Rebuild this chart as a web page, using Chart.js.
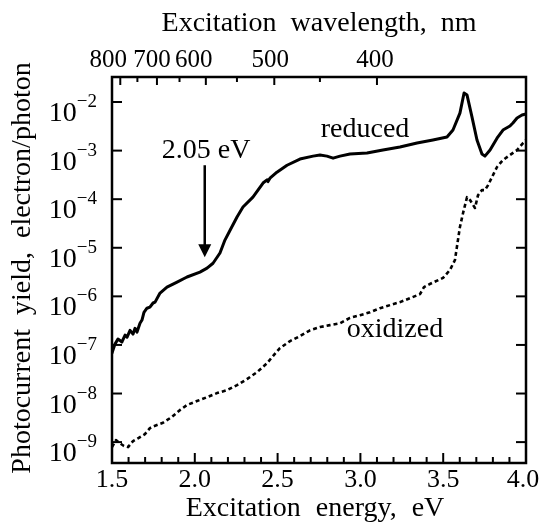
<!DOCTYPE html>
<html><head><meta charset="utf-8">
<script src="https://cdn.jsdelivr.net/npm/chart.js@4.4.1/dist/chart.umd.min.js"></script>
<style>html,body{margin:0;padding:0;background:#fff;}canvas{display:block;}</style>
</head><body>
<canvas id="c" width="546" height="529"></canvas>
<script>
// ---- data ----
const reducedEnergy = [1.50,1.518,1.536,1.56,1.579,1.591,1.609,1.627,1.639,1.651,1.669,1.681,1.693,1.711,1.729,1.748,1.76,1.79,1.832,1.893,1.953,2.031,2.074,2.11,2.152,2.182,2.213,2.255,2.291,2.351,2.412,2.436,2.442,2.454,2.496,2.557,2.635,2.714,2.756,2.798,2.835,2.877,2.937,3.04,3.136,3.239,3.342,3.438,3.523,3.559,3.601,3.626,3.644,3.674,3.704,3.734,3.752,3.783,3.825,3.861,3.903,3.921,3.946,3.976,4.0];
const reducedYield = [6.8e-8,1.04e-7,1.32e-7,1.15e-7,1.6e-7,1.45e-7,2.0e-7,1.67e-7,2.2e-7,1.84e-7,2.8e-7,3.25e-7,4.7e-7,5.7e-7,6.0e-7,7.3e-7,7.6e-7,1.17e-6,1.55e-6,1.97e-6,2.5e-6,3.16e-6,3.8e-6,4.8e-6,7.8e-6,1.44e-5,2.3e-5,4.3e-5,6.9e-5,1.1e-4,2.15e-4,2.5e-4,2.3e-4,2.7e-4,3.6e-4,5.0e-4,6.7e-4,7.7e-4,8.1e-4,7.7e-4,7.0e-4,7.7e-4,8.5e-4,8.9e-4,1.03e-3,1.19e-3,1.43e-3,1.65e-3,1.9e-3,2.65e-3,5.9e-3,1.53e-2,1.39e-2,4.9e-3,1.65e-3,8.5e-4,7.7e-4,1.03e-3,1.8e-3,2.65e-3,3.2e-3,3.7e-3,4.7e-3,5.4e-3,5.7e-3];
const oxidizedEnergy = [1.50,1.524,1.548,1.572,1.597,1.627,1.657,1.699,1.729,1.748,1.808,1.862,1.911,1.953,2.013,2.074,2.134,2.194,2.255,2.315,2.376,2.436,2.472,2.514,2.575,2.635,2.696,2.756,2.816,2.877,2.937,2.998,3.058,3.118,3.179,3.239,3.30,3.36,3.384,3.42,3.499,3.541,3.571,3.589,3.601,3.62,3.644,3.662,3.692,3.71,3.734,3.752,3.771,3.795,3.825,3.861,3.903,3.946,3.982,4.0];
const oxidizedYield = [7.9e-10,1.1e-9,9.5e-10,8.3e-10,7.9e-10,1.05e-9,1.2e-9,1.46e-9,1.94e-9,2.1e-9,2.5e-9,3.3e-9,4.6e-9,5.8e-9,7.0e-9,8.4e-9,1.02e-8,1.17e-8,1.49e-8,1.98e-8,2.76e-8,4.2e-8,5.9e-8,8.6e-8,1.2e-7,1.52e-7,2.0e-7,2.33e-7,2.56e-7,2.8e-7,3.6e-7,4.1e-7,4.7e-7,5.7e-7,6.6e-7,7.6e-7,9.2e-7,1.11e-6,1.55e-6,1.8e-6,2.4e-6,3.5e-6,5.6e-6,1.44e-5,2.67e-5,5.2e-5,1.1e-4,9.6e-5,6.6e-5,1.2e-4,1.54e-4,1.54e-4,1.95e-4,2.86e-4,4.6e-4,6.4e-4,8.1e-4,1.03e-3,1.43e-3,1.65e-3];

// ---- axes ----
const energyTicks = [1.5,2.0,2.5,3.0,3.5,4.0];
const energyTickLabels = ['1.5','2.0','2.5','3.0','3.5','4.0'];
const yieldExponents = [-2,-3,-4,-5,-6,-7,-8,-9];
const wavelengthTicks = [800,750,700,650,600,550,500,450,400];
const wavelengthLabels = ['800','700','600','500','400'];
const xTitle = 'Excitation energy, eV';
const topTitle = 'Excitation wavelength, nm';
const yTitle = 'Photocurrent yield, electron/photon';

// ---- annotations (data coordinates) ----
const labelReduced = {text:'reduced', e:3.028, v:1.9e-3};
const labelOxidized = {text:'oxidized', e:3.209, v:1.45e-7};
const labelEdge = {text:'2.05 eV', e:2.068, v:7.0e-4};
const arrowEnergy = 2.06, arrowFrom = 5.0e-4, arrowTo = 6.4e-6;

const SERIF = '"Liberation Serif", "Times New Roman", serif';
const toXY = (xs, ys) => xs.map((x, i) => ({x, y: ys[i]}));

const decor = {
  id: 'decor',
  afterDatasetsDraw(chart) {
    const {ctx, chartArea: a, scales: {x, y}} = chart;
    const line = (x1, y1, x2, y2) => { ctx.beginPath(); ctx.moveTo(x1, y1); ctx.lineTo(x2, y2); ctx.stroke(); };
    const spaced = (px) => { try { ctx.wordSpacing = px + 'px'; } catch (e) {} };
    ctx.save();
    ctx.strokeStyle = '#000'; ctx.fillStyle = '#000';
    // ticks
    ctx.lineWidth = 2;
    for (let i = 15; i <= 40; i++) {
      const px = x.getPixelForValue(i / 10);
      line(px, a.bottom, px, a.bottom - (i % 5 === 0 ? 10 : 6));
    }
    yieldExponents.forEach(k => {
      const py = y.getPixelForValue(Math.pow(10, k));
      line(a.left, py, a.left + 10, py);
      line(a.right, py, a.right - 10, py);
    });
    wavelengthTicks.forEach(l => {
      const px = x.getPixelForValue(1240 / l);
      if (px < a.left - 0.5) return;
      line(px, a.top, px, a.top + (l % 100 === 0 ? 8 : 5));
    });
    // frame
    ctx.lineWidth = 2.5;
    ctx.strokeRect(a.left, a.top, a.right - a.left, a.bottom - a.top);

    // bottom tick labels
    ctx.textAlign = 'center'; ctx.textBaseline = 'alphabetic';
    ctx.font = '26px ' + SERIF;
    energyTicks.forEach((v, i) => {
      let px = x.getPixelForValue(v);
      if (i === energyTicks.length - 1) px -= 3;
      ctx.fillText(energyTickLabels[i], px, a.bottom + 24);
    });
    ctx.font = '28px ' + SERIF;
    spaced(8);
    ctx.fillText(xTitle, (a.left + a.right) / 2 - 4, a.bottom + 53);
    spaced(0);

    // top labels
    ctx.font = '25px ' + SERIF;
    const topShift = {800: -12, 700: -5, 600: -12, 500: -4, 400: -2};
    wavelengthLabels.forEach(t => {
      const l = +t;
      const px = x.getPixelForValue(1240 / l) + topShift[l];
      ctx.fillText(t, px, a.top - 10);
    });
    ctx.font = '28px ' + SERIF;
    spaced(7);
    ctx.fillText(topTitle, (a.left + a.right) / 2, a.top - 46);
    spaced(0);

    // y labels 10^k
    yieldExponents.forEach(k => {
      const py = y.getPixelForValue(Math.pow(10, k));
      const right = a.left - 15;
      ctx.textAlign = 'right';
      ctx.font = '19px ' + SERIF;
      const sup = '\u2212' + Math.abs(k);
      const sw = ctx.measureText(sup).width;
      ctx.fillText(sup, right, py + 5);
      ctx.font = '28px ' + SERIF;
      ctx.fillText('10', right - sw, py + 19);
    });

    // y title
    ctx.save();
    ctx.translate(30, (a.top + a.bottom) / 2 - 2);
    ctx.rotate(-Math.PI / 2);
    ctx.textAlign = 'center';
    ctx.font = '28px ' + SERIF;
    spaced(7);
    ctx.fillText(yTitle, 0, 0);
    spaced(0);
    ctx.restore();

    // annotations
    ctx.textAlign = 'center';
    ctx.font = '28px ' + SERIF;
    [labelReduced, labelOxidized, labelEdge].forEach(L => {
      ctx.fillText(L.text, x.getPixelForValue(L.e), y.getPixelForValue(L.v));
    });
    // arrow
    const ax = x.getPixelForValue(arrowEnergy);
    const ay1 = y.getPixelForValue(arrowFrom), ay2 = y.getPixelForValue(arrowTo);
    ctx.lineWidth = 2.5;
    line(ax, ay1, ax, ay2 - 10);
    ctx.beginPath();
    ctx.moveTo(ax, ay2); ctx.lineTo(ax - 6.5, ay2 - 13); ctx.lineTo(ax + 6.5, ay2 - 13); ctx.closePath();
    ctx.fill();
    ctx.restore();
  }
};

new Chart(document.getElementById('c'), {
  type: 'line',
  data: {
    datasets: [
      {label: 'reduced', data: toXY(reducedEnergy, reducedYield), borderColor: '#000', borderWidth: 3, borderJoinStyle: 'round', borderCapStyle: 'round', pointRadius: 0, tension: 0, fill: false},
      {label: 'oxidized', data: toXY(oxidizedEnergy, oxidizedYield), borderColor: '#000', borderWidth: 2.6, borderDash: [4, 3], borderJoinStyle: 'round', pointRadius: 0, tension: 0, fill: false}
    ]
  },
  options: {
    responsive: false, animation: false, devicePixelRatio: 1,
    layout: {padding: {left: 112, right: 20, top: 77, bottom: 66}},
    plugins: {legend: {display: false}, tooltip: {enabled: false}},
    scales: {
      x: {type: 'linear', min: 1.5, max: 4.0, display: false},
      y: {type: 'logarithmic', min: Math.pow(10, -9.43), max: Math.pow(10, -1.485), display: false}
    }
  },
  plugins: [decor]
});
</script>
</body></html>
